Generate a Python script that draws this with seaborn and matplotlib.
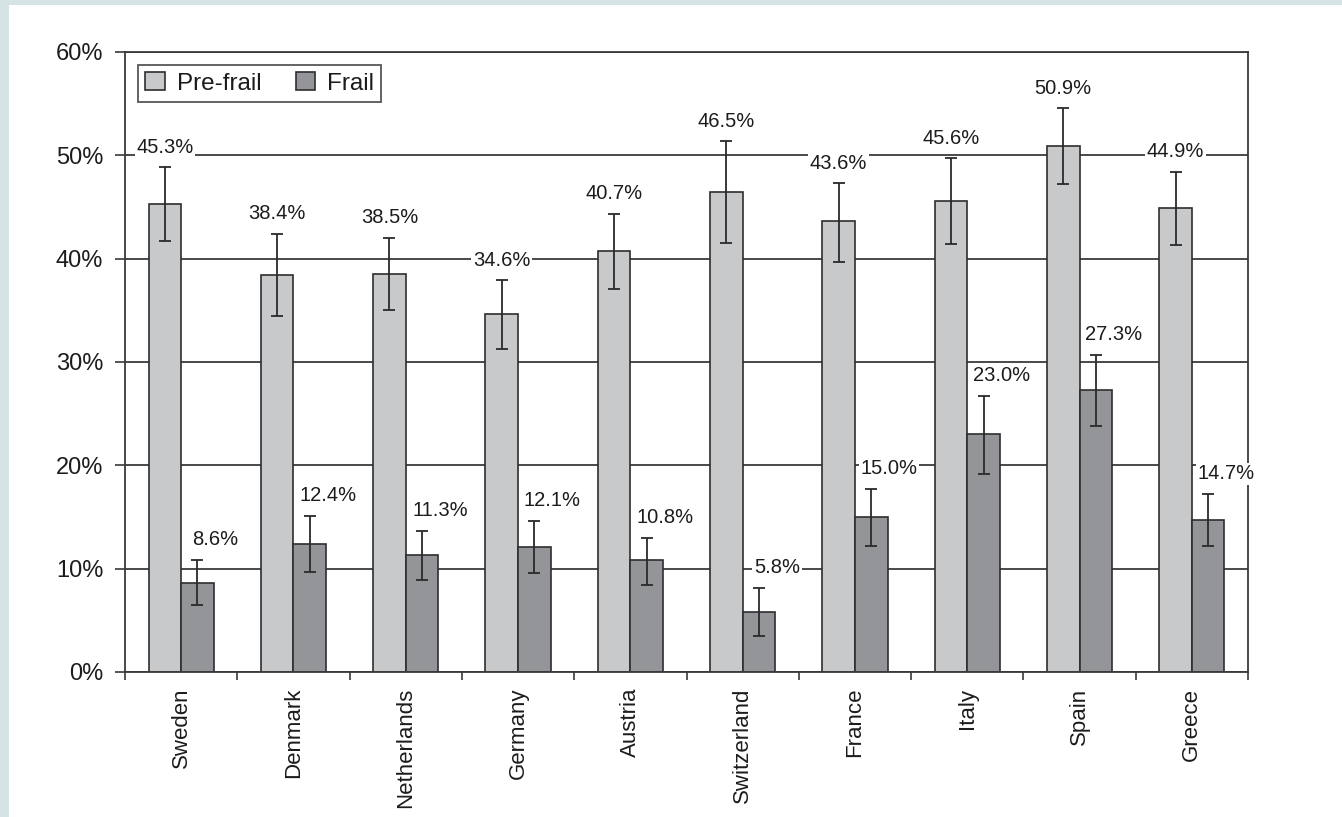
import matplotlib
matplotlib.use("Agg")
import matplotlib.pyplot as plt
import matplotlib.patches as mpatches
from matplotlib.container import BarContainer
import seaborn as sns
import pandas as pd
import numpy as np

countries = ["Sweden", "Denmark", "Netherlands", "Germany", "Austria",
             "Switzerland", "France", "Italy", "Spain", "Greece"]
series_names = ["Pre-frail", "Frail"]
prefrail = [45.3, 38.4, 38.5, 34.6, 40.7, 46.5, 43.6, 45.6, 50.9, 44.9]
frail = [8.6, 12.4, 11.3, 12.1, 10.8, 5.8, 15.0, 23.0, 27.3, 14.7]
prefrail_lo = [41.7, 34.45, 35.0, 31.3, 37.1, 41.55, 39.7, 41.45, 47.2, 41.3]
prefrail_hi = [48.85, 42.4, 42.0, 37.9, 44.35, 51.35, 47.3, 49.7, 54.55, 48.4]
frail_lo = [6.5, 9.7, 8.9, 9.55, 8.4, 3.5, 12.2, 19.2, 23.8, 12.2]
frail_hi = [10.85, 15.1, 13.65, 14.6, 13.0, 8.15, 17.7, 26.75, 30.7, 17.25]
yticks = [0, 10, 20, 30, 40, 50, 60]

sns.set_style("white")
plt.rcParams["font.family"] = ["Liberation Sans", "DejaVu Sans"]
TXT = "#1c1c1c"
LINE = "#3a3a3a"

df = pd.DataFrame({
    "country": countries * 2,
    "status": [series_names[0]] * len(countries) + [series_names[1]] * len(countries),
    "value": prefrail + frail,
})

fig = plt.figure(figsize=(13.42, 8.17), dpi=100, facecolor="#d5e3e5")
fig.patches.append(mpatches.Rectangle((9 / 1342, 0), 1, 1 - 5 / 817,
                                      transform=fig.transFigure,
                                      facecolor="white", edgecolor="none", zorder=-10))
ax = fig.add_axes([125 / 1342, 1 - 672 / 817, 1123 / 1342, 620 / 817])
ax.set_facecolor("none")

sns.barplot(data=df, x="country", y="value", hue="status", order=countries,
            hue_order=series_names, palette=["#c8c9cb", "#939598"],
            width=0.58, edgecolor="#2e2e2e", linewidth=1.2, errorbar=None,
            saturation=1, ax=ax, zorder=2)

ax.set_xlim(-0.5, len(countries) - 0.5)
ax.set_ylim(0, 60)
ax.set_axisbelow(True)
ax.yaxis.grid(True, color=LINE, linewidth=1.3, zorder=0)
ax.xaxis.grid(False)

bar_containers = [c for c in ax.containers if isinstance(c, BarContainer)]
lows = [prefrail_lo, frail_lo]
highs = [prefrail_hi, frail_hi]
vals = [prefrail, frail]
label_dx = [0, 13]
for i, cont in enumerate(bar_containers):
    xs = [p.get_x() + p.get_width() / 2 for p in cont.patches]
    v = np.array(vals[i])
    lo = v - np.array(lows[i])
    hi = np.array(highs[i]) - v
    ax.errorbar(xs, v, yerr=[lo, hi], fmt="none", ecolor="#2a2a2a",
                elinewidth=1.3, capsize=4.6, capthick=1.3, zorder=3)
    for x, val, top in zip(xs, vals[i], highs[i]):
        ax.annotate(f"{val:.1f}%", xy=(x, top), xytext=(label_dx[i], 14.5),
                    textcoords="offset points", ha="center", va="center",
                    fontsize=14.5, color=TXT, zorder=4,
                    bbox=dict(boxstyle="square,pad=0.08", facecolor="white",
                              edgecolor="none"))

ax.set_yticks(yticks)
ax.set_yticklabels([f"{t}%" for t in yticks])
ax.tick_params(axis="y", direction="out", length=7.2, width=1.2, color=LINE,
               pad=8.5, labelsize=17, labelcolor=TXT, left=True)
ax.set_xticks(range(len(countries)))
ax.set_xticklabels(countries, rotation=90, ha="center", va="top")
ax.tick_params(axis="x", which="major", length=0, pad=11.5, labelsize=16,
               labelcolor=TXT)
ax.set_xticks(np.arange(-0.5, len(countries), 1.0), minor=True)
ax.tick_params(axis="x", which="minor", direction="out", length=6, width=1.2,
               color=LINE, bottom=True)
ax.set_xlabel("")
ax.set_ylabel("")

for side in ["left", "top", "right", "bottom"]:
    ax.spines[side].set_visible(True)
    ax.spines[side].set_color(LINE)
    ax.spines[side].set_linewidth(1.3)

handles = [mpatches.Patch(facecolor=c.patches[0].get_facecolor(),
                          edgecolor="#2e2e2e", linewidth=1.2)
           for c in bar_containers]
leg = ax.legend(handles, series_names, loc="upper left",
                bbox_to_anchor=(0.0116, 0.979),
                ncol=2, frameon=True, fancybox=False, shadow=False,
                fontsize=17.5, handlelength=0.8, handleheight=0.75,
                handletextpad=0.5, columnspacing=1.4, borderpad=0.3,
                borderaxespad=0)
leg.get_frame().set_edgecolor("#2e2e2e")
leg.get_frame().set_linewidth(1.3)
for t in leg.get_texts():
    t.set_color(TXT)

fig.savefig("out.png", dpi=100, facecolor=fig.get_facecolor())
